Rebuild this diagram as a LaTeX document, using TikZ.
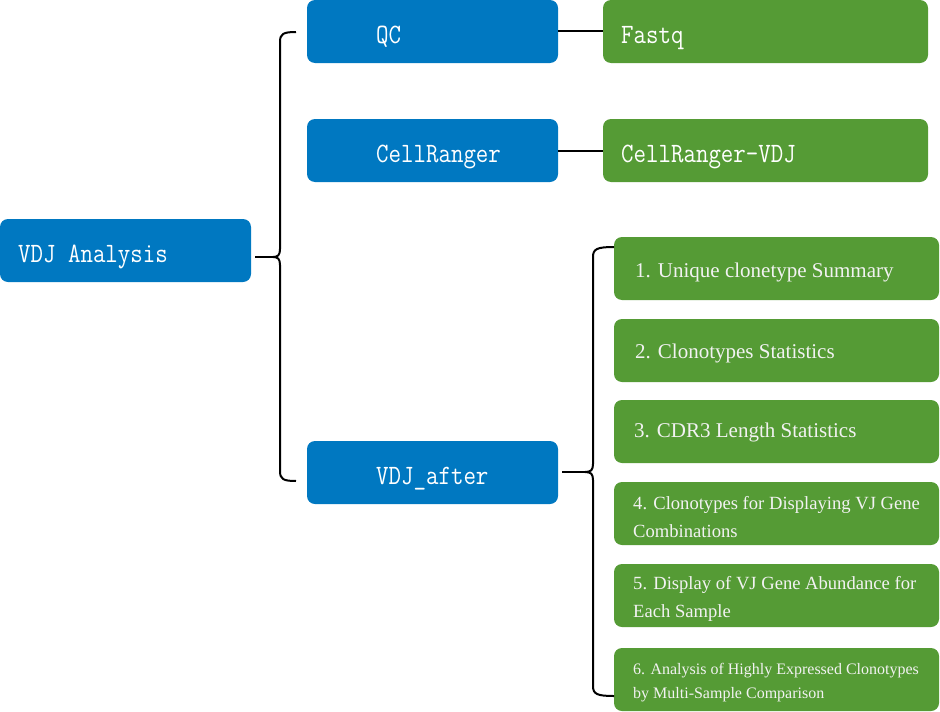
\documentclass[tikz,border=0pt]{standalone}
\usepackage{fontspec}
\newfontfamily\monof[FakeStretch=0.865]{Latin Modern Mono}
\newfontfamily\serf{Liberation Serif}
\definecolor{bboxc}{HTML}{0078C1}
\definecolor{gboxc}{HTML}{559B35}
\definecolor{stxt}{HTML}{F2F2F2}
\tikzset{
  bluebox/.style={fill=bboxc, rounded corners=8pt, inner sep=0pt, outer sep=0pt,
    minimum width=251pt, minimum height=63pt, anchor=north west},
  greenbox/.style={fill=gboxc, rounded corners=8pt, inner sep=0pt, outer sep=0pt,
    minimum height=63pt, anchor=north west},
  monotext/.style={text=white, inner sep=0pt, anchor=base west, font=\monof\fontsize{28}{30}\selectfont},
  sertext/.style={text=stxt, inner sep=0pt, anchor=base west, font=\serf\fontsize{21}{28}\selectfont},
  sertwo/.style={text=stxt, inner sep=0pt, anchor=west, align=left, font=\serf\fontsize{18.6}{28}\selectfont},
  link/.style={draw=black, line width=2pt},
}
\begin{document}
\begin{tikzpicture}[x=1pt,y=-1pt]
\useasboundingbox (0,0) rectangle (940,712);
% blue boxes
\node[bluebox] (vdj) at (0,219) {};
\node[bluebox] (qc) at (307,0) {};
\node[bluebox] (cr) at (307,119) {};
\node[bluebox] (va) at (307,441) {};
% green boxes top
\node[greenbox, minimum width=325pt] (fq) at (603,0) {};
\node[greenbox, minimum width=325pt] (crv) at (603,119) {};
% green boxes right
\node[greenbox, minimum width=325pt] (g1) at (614,237) {};
\node[greenbox, minimum width=325pt] (g2) at (614,319) {};
\node[greenbox, minimum width=325pt] (g3) at (614,400) {};
\node[greenbox, minimum width=325pt] (g4) at (614,482) {};
\node[greenbox, minimum width=325pt] (g5) at (614,564) {};
\node[greenbox, minimum width=325pt, minimum height=63pt] (g6) at (614,648) {};
% mono texts
\node[monotext] (vdjt) at (18,262) {VDJ Analysis};
\node[monotext] (qct) at (376,43) {QC};
\node[monotext] (crt) at (376,162) {CellRanger};
\node[monotext] (vat) at (376,484) {VDJ\_after};
\node[monotext] (fqt) at (621,43) {Fastq};
\node[monotext] (crvt) at (621,162) {CellRanger-VDJ};
% serif texts
\node[sertext] (g1t) at (635,277) {1. Unique clonetype Summary};
\node[sertext] (g2t) at (635,358) {2. Clonotypes Statistics};
\node[sertext] (g3t) at (634,437) {3. CDR3 Length Statistics};
\node[sertwo] (g4t) at (633,517) {4. Clonotypes for Displaying VJ Gene\\Combinations};
\node[sertwo] (g5t) at (633,599) {5. Display of VJ Gene Abundance for\\Each Sample};
\node[sertwo, font=\serf\fontsize{16}{24}\selectfont] (g6t) at (633,683) {6. Analysis of Highly Expressed Clonotypes\\by Multi-Sample Comparison};
% straight links
\draw[link] (qc.east |- 0,31) -- (fq.west |- 0,31);
\draw[link] (cr.east |- 0,151) -- (crv.west |- 0,151);
% brace 1
\coordinate (b1c) at (273,257);
\coordinate (b1t) at (296,32);
\coordinate (b1b) at (296,481);
\draw[link] (vdj.east |- b1c) ++(4,0) -- (b1c);
\draw[link, line join=round] (b1t) .. controls (283,32) and (280,34) .. (280,42) -- (280,249)
  .. controls (280,255) and (278,257) .. (b1c)
  .. controls (278,257) and (280,259) .. (280,265) -- (280,471)
  .. controls (280,479) and (283,481) .. (b1b);
% brace 2
\coordinate (b2c) at (585,472);
\coordinate (b2t) at (614,247);
\coordinate (b2b) at (614,696);
\draw[link] (va.east |- b2c) ++(4,0) -- (b2c);
\draw[link, line join=round] (b2t) .. controls (597,247) and (593,249) .. (593,257) -- (593,464)
  .. controls (593,470) and (591,472) .. (b2c)
  .. controls (591,472) and (593,474) .. (593,480) -- (593,686)
  .. controls (593,694) and (597,696) .. (b2b);
\end{tikzpicture}
\end{document}
